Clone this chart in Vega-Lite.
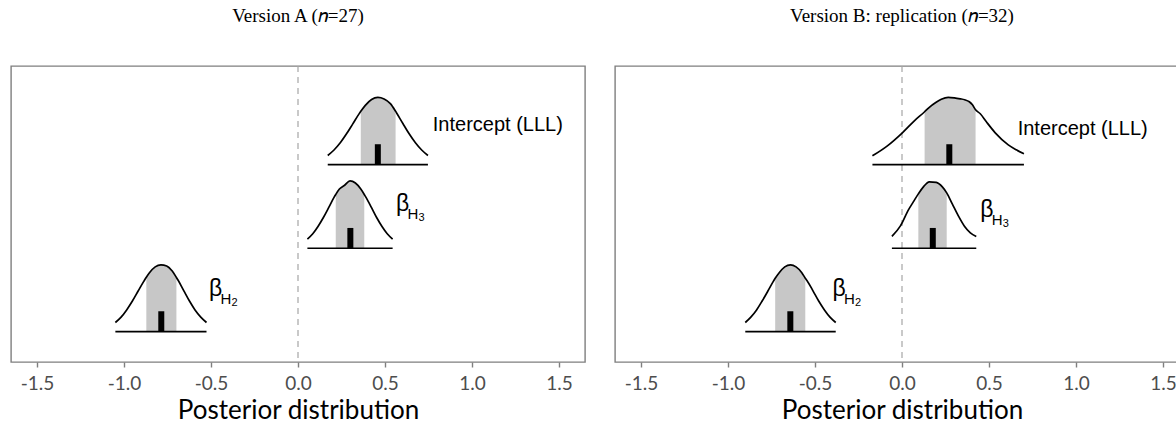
{
  "$schema": "https://vega.github.io/schema/vega-lite/v6.json",
  "padding": {"left": 10, "top": 6, "right": 0, "bottom": 0},
  "spacing": 28,
  "datasets": {
    "curves": [
      {"p":"A","g":"Int","x":0.171,"y":2.442,"b":2.335,"i":false},
      {"p":"A","g":"Int","x":0.207,"y":2.507,"b":2.335,"i":false},
      {"p":"A","g":"Int","x":0.243,"y":2.592,"b":2.335,"i":false},
      {"p":"A","g":"Int","x":0.279,"y":2.698,"b":2.335,"i":false},
      {"p":"A","g":"Int","x":0.315,"y":2.816,"b":2.335,"i":false},
      {"p":"A","g":"Int","x":0.351,"y":2.934,"b":2.335,"i":false},
      {"p":"A","g":"Int","x":0.361,"y":2.964,"b":2.335,"i":true},
      {"p":"A","g":"Int","x":0.387,"y":3.035,"b":2.335,"i":true},
      {"p":"A","g":"Int","x":0.423,"y":3.104,"b":2.335,"i":true},
      {"p":"A","g":"Int","x":0.459,"y":3.128,"b":2.335,"i":true},
      {"p":"A","g":"Int","x":0.495,"y":3.110,"b":2.335,"i":true},
      {"p":"A","g":"Int","x":0.531,"y":3.055,"b":2.335,"i":true},
      {"p":"A","g":"Int","x":0.561,"y":2.965,"b":2.335,"i":true},
      {"p":"A","g":"Int","x":0.567,"y":2.945,"b":2.335,"i":false},
      {"p":"A","g":"Int","x":0.603,"y":2.820,"b":2.335,"i":false},
      {"p":"A","g":"Int","x":0.639,"y":2.698,"b":2.335,"i":false},
      {"p":"A","g":"Int","x":0.675,"y":2.592,"b":2.335,"i":false},
      {"p":"A","g":"Int","x":0.711,"y":2.507,"b":2.335,"i":false},
      {"p":"A","g":"Int","x":0.747,"y":2.442,"b":2.335,"i":false},

      {"p":"A","g":"H3","x":0.054,"y":1.453,"b":1.345,"i":false},
      {"p":"A","g":"H3","x":0.085,"y":1.517,"b":1.345,"i":false},
      {"p":"A","g":"H3","x":0.115,"y":1.603,"b":1.345,"i":false},
      {"p":"A","g":"H3","x":0.146,"y":1.709,"b":1.345,"i":false},
      {"p":"A","g":"H3","x":0.177,"y":1.828,"b":1.345,"i":false},
      {"p":"A","g":"H3","x":0.207,"y":1.946,"b":1.345,"i":false},
      {"p":"A","g":"H3","x":0.217,"y":1.981,"b":1.345,"i":true},
      {"p":"A","g":"H3","x":0.238,"y":2.045,"b":1.345,"i":true},
      {"p":"A","g":"H3","x":0.268,"y":2.090,"b":1.345,"i":true},
      {"p":"A","g":"H3","x":0.299,"y":2.141,"b":1.345,"i":true},
      {"p":"A","g":"H3","x":0.330,"y":2.116,"b":1.345,"i":true},
      {"p":"A","g":"H3","x":0.360,"y":2.048,"b":1.345,"i":true},
      {"p":"A","g":"H3","x":0.381,"y":1.981,"b":1.345,"i":true},
      {"p":"A","g":"H3","x":0.391,"y":1.946,"b":1.345,"i":false},
      {"p":"A","g":"H3","x":0.422,"y":1.828,"b":1.345,"i":false},
      {"p":"A","g":"H3","x":0.452,"y":1.709,"b":1.345,"i":false},
      {"p":"A","g":"H3","x":0.483,"y":1.603,"b":1.345,"i":false},
      {"p":"A","g":"H3","x":0.513,"y":1.517,"b":1.345,"i":false},
      {"p":"A","g":"H3","x":0.544,"y":1.453,"b":1.345,"i":false},

      {"p":"A","g":"H2","x":-1.050,"y":0.467,"b":0.36,"i":false},
      {"p":"A","g":"H2","x":-1.017,"y":0.531,"b":0.36,"i":false},
      {"p":"A","g":"H2","x":-0.985,"y":0.616,"b":0.36,"i":false},
      {"p":"A","g":"H2","x":-0.952,"y":0.721,"b":0.36,"i":false},
      {"p":"A","g":"H2","x":-0.919,"y":0.839,"b":0.36,"i":false},
      {"p":"A","g":"H2","x":-0.886,"y":0.956,"b":0.36,"i":false},
      {"p":"A","g":"H2","x":-0.872,"y":1.003,"b":0.36,"i":true},
      {"p":"A","g":"H2","x":-0.854,"y":1.056,"b":0.36,"i":true},
      {"p":"A","g":"H2","x":-0.821,"y":1.125,"b":0.36,"i":true},
      {"p":"A","g":"H2","x":-0.788,"y":1.149,"b":0.36,"i":true},
      {"p":"A","g":"H2","x":-0.755,"y":1.135,"b":0.36,"i":true},
      {"p":"A","g":"H2","x":-0.723,"y":1.075,"b":0.36,"i":true},
      {"p":"A","g":"H2","x":-0.699,"y":1.000,"b":0.36,"i":true},
      {"p":"A","g":"H2","x":-0.690,"y":0.970,"b":0.36,"i":false},
      {"p":"A","g":"H2","x":-0.657,"y":0.845,"b":0.36,"i":false},
      {"p":"A","g":"H2","x":-0.624,"y":0.721,"b":0.36,"i":false},
      {"p":"A","g":"H2","x":-0.592,"y":0.616,"b":0.36,"i":false},
      {"p":"A","g":"H2","x":-0.559,"y":0.531,"b":0.36,"i":false},
      {"p":"A","g":"H2","x":-0.526,"y":0.467,"b":0.36,"i":false},

      {"p":"B","g":"Int","x":-0.170,"y":2.438,"b":2.335,"i":false},
      {"p":"B","g":"Int","x":-0.084,"y":2.556,"b":2.335,"i":false},
      {"p":"B","g":"Int","x":0.002,"y":2.710,"b":2.335,"i":false},
      {"p":"B","g":"Int","x":0.071,"y":2.852,"b":2.335,"i":false},
      {"p":"B","g":"Int","x":0.130,"y":2.959,"b":2.335,"i":true},
      {"p":"B","g":"Int","x":0.157,"y":3.012,"b":2.335,"i":true},
      {"p":"B","g":"Int","x":0.192,"y":3.065,"b":2.335,"i":true},
      {"p":"B","g":"Int","x":0.226,"y":3.107,"b":2.335,"i":true},
      {"p":"B","g":"Int","x":0.266,"y":3.130,"b":2.335,"i":true},
      {"p":"B","g":"Int","x":0.301,"y":3.124,"b":2.335,"i":true},
      {"p":"B","g":"Int","x":0.335,"y":3.112,"b":2.335,"i":true},
      {"p":"B","g":"Int","x":0.360,"y":3.101,"b":2.335,"i":true},
      {"p":"B","g":"Int","x":0.387,"y":3.077,"b":2.335,"i":true},
      {"p":"B","g":"Int","x":0.405,"y":3.041,"b":2.335,"i":true},
      {"p":"B","g":"Int","x":0.423,"y":2.982,"b":2.335,"i":true},
      {"p":"B","g":"Int","x":0.450,"y":2.935,"b":2.335,"i":false},
      {"p":"B","g":"Int","x":0.485,"y":2.840,"b":2.335,"i":false},
      {"p":"B","g":"Int","x":0.536,"y":2.710,"b":2.335,"i":false},
      {"p":"B","g":"Int","x":0.611,"y":2.568,"b":2.335,"i":false},
      {"p":"B","g":"Int","x":0.657,"y":2.509,"b":2.335,"i":false},
      {"p":"B","g":"Int","x":0.701,"y":2.462,"b":2.335,"i":false},

      {"p":"B","g":"H3","x":-0.058,"y":1.485,"b":1.345,"i":false},
      {"p":"B","g":"H3","x":-0.009,"y":1.609,"b":1.345,"i":false},
      {"p":"B","g":"H3","x":0.037,"y":1.799,"b":1.345,"i":false},
      {"p":"B","g":"H3","x":0.065,"y":1.893,"b":1.345,"i":false},
      {"p":"B","g":"H3","x":0.094,"y":1.988,"b":1.345,"i":true},
      {"p":"B","g":"H3","x":0.123,"y":2.071,"b":1.345,"i":true},
      {"p":"B","g":"H3","x":0.157,"y":2.130,"b":1.345,"i":true},
      {"p":"B","g":"H3","x":0.197,"y":2.124,"b":1.345,"i":true},
      {"p":"B","g":"H3","x":0.232,"y":2.071,"b":1.345,"i":true},
      {"p":"B","g":"H3","x":0.257,"y":2.000,"b":1.345,"i":true},
      {"p":"B","g":"H3","x":0.289,"y":1.870,"b":1.345,"i":false},
      {"p":"B","g":"H3","x":0.324,"y":1.728,"b":1.345,"i":false},
      {"p":"B","g":"H3","x":0.358,"y":1.609,"b":1.345,"i":false},
      {"p":"B","g":"H3","x":0.393,"y":1.527,"b":1.345,"i":false},
      {"p":"B","g":"H3","x":0.427,"y":1.485,"b":1.345,"i":false},

      {"p":"B","g":"H2","x":-0.901,"y":0.467,"b":0.36,"i":false},
      {"p":"B","g":"H2","x":-0.869,"y":0.531,"b":0.36,"i":false},
      {"p":"B","g":"H2","x":-0.836,"y":0.616,"b":0.36,"i":false},
      {"p":"B","g":"H2","x":-0.804,"y":0.721,"b":0.36,"i":false},
      {"p":"B","g":"H2","x":-0.771,"y":0.839,"b":0.36,"i":false},
      {"p":"B","g":"H2","x":-0.739,"y":0.956,"b":0.36,"i":false},
      {"p":"B","g":"H2","x":-0.729,"y":0.990,"b":0.36,"i":true},
      {"p":"B","g":"H2","x":-0.706,"y":1.056,"b":0.36,"i":true},
      {"p":"B","g":"H2","x":-0.674,"y":1.125,"b":0.36,"i":true},
      {"p":"B","g":"H2","x":-0.641,"y":1.149,"b":0.36,"i":true},
      {"p":"B","g":"H2","x":-0.609,"y":1.125,"b":0.36,"i":true},
      {"p":"B","g":"H2","x":-0.576,"y":1.056,"b":0.36,"i":true},
      {"p":"B","g":"H2","x":-0.556,"y":0.990,"b":0.36,"i":true},
      {"p":"B","g":"H2","x":-0.544,"y":0.956,"b":0.36,"i":false},
      {"p":"B","g":"H2","x":-0.511,"y":0.839,"b":0.36,"i":false},
      {"p":"B","g":"H2","x":-0.479,"y":0.721,"b":0.36,"i":false},
      {"p":"B","g":"H2","x":-0.446,"y":0.616,"b":0.36,"i":false},
      {"p":"B","g":"H2","x":-0.414,"y":0.531,"b":0.36,"i":false},
      {"p":"B","g":"H2","x":-0.381,"y":0.467,"b":0.36,"i":false}
    ],
    "summ": [
      {"p":"A","g":"Int","lo":0.171,"hi":0.747,"b":2.335,"m":0.459,"top":2.575,"lx":0.775,"ly":2.737,"t":"Intercept (LLL)","s":"","ss":""},
      {"p":"A","g":"H3","lo":0.054,"hi":0.544,"b":1.345,"m":0.301,"top":1.585,"lx":0.563,"ly":1.787,"t":"β","s":"H","ss":"3"},
      {"p":"A","g":"H2","lo":-1.050,"hi":-0.526,"b":0.36,"m":-0.786,"top":0.60,"lx":-0.512,"ly":0.783,"t":"β","s":"H","ss":"2"},
      {"p":"B","g":"Int","lo":-0.170,"hi":0.701,"b":2.335,"m":0.272,"top":2.575,"lx":0.665,"ly":2.686,"t":"Intercept (LLL)","s":"","ss":""},
      {"p":"B","g":"H3","lo":-0.058,"hi":0.427,"b":1.345,"m":0.177,"top":1.585,"lx":0.450,"ly":1.72,"t":"β","s":"H","ss":"3"},
      {"p":"B","g":"H2","lo":-0.901,"hi":-0.381,"b":0.36,"m":-0.642,"top":0.60,"lx":-0.400,"ly":0.783,"t":"β","s":"H","ss":"2"}
    ]
  },
  "hconcat": [
    {
      "width": 574, "height": 296,
      "title": "Version A (𝑛=27)",
      "layer": [
        {"data": {"values": [{}]}, "mark": {"type": "rule", "color": "#a6a6a6", "strokeDash": [6, 5], "strokeWidth": 1.2},
         "encoding": {"x": {"datum": 0, "type": "quantitative", "scale": {"domain": [-1.65, 1.65], "nice": false, "zero": false}, "axis": {"values": [-1.5, -1, -0.5, 0, 0.5, 1, 1.5], "labelExpr": "replace(format(datum.value, '.1f'), '−', '-')", "title": "Posterior distribution"}}}},
        {"data": {"name": "curves"}, "transform": [{"filter": "datum.p == 'A' && datum.i"}],
         "mark": {"type": "area", "color": "#c7c7c7", "interpolate": "monotone"},
         "encoding": {"x": {"field": "x", "type": "quantitative", "scale": {"domain": [-1.65, 1.65], "nice": false, "zero": false}, "axis": {"values": [-1.5, -1, -0.5, 0, 0.5, 1, 1.5], "labelExpr": "replace(format(datum.value, '.1f'), '−', '-')", "title": "Posterior distribution"}},
                      "y": {"field": "y", "type": "quantitative", "scale": {"domain": [0, 3.5], "nice": false, "zero": false}, "axis": null},
                      "y2": {"field": "b"}, "detail": {"field": "g"}}},
        {"data": {"name": "curves"}, "transform": [{"filter": "datum.p == 'A'"}],
         "mark": {"type": "line", "color": "black", "strokeWidth": 1.7, "interpolate": "monotone"},
         "encoding": {"x": {"field": "x", "type": "quantitative", "scale": {"domain": [-1.65, 1.65], "nice": false, "zero": false}, "axis": {"values": [-1.5, -1, -0.5, 0, 0.5, 1, 1.5], "labelExpr": "replace(format(datum.value, '.1f'), '−', '-')", "title": "Posterior distribution"}},
                      "y": {"field": "y", "type": "quantitative", "scale": {"domain": [0, 3.5], "nice": false, "zero": false}, "axis": null},
                      "detail": {"field": "g"}}},
        {"data": {"name": "summ"}, "transform": [{"filter": "datum.p == 'A'"}],
         "mark": {"type": "rule", "color": "black", "strokeWidth": 1.7},
         "encoding": {"x": {"field": "lo", "type": "quantitative", "scale": {"domain": [-1.65, 1.65], "nice": false, "zero": false}, "axis": {"values": [-1.5, -1, -0.5, 0, 0.5, 1, 1.5], "labelExpr": "replace(format(datum.value, '.1f'), '−', '-')", "title": "Posterior distribution"}},
                      "x2": {"field": "hi"},
                      "y": {"field": "b", "type": "quantitative", "scale": {"domain": [0, 3.5], "nice": false, "zero": false}, "axis": null}}},
        {"data": {"name": "summ"}, "transform": [{"filter": "datum.p == 'A'"}],
         "mark": {"type": "rule", "color": "black", "strokeWidth": 6},
         "encoding": {"x": {"field": "m", "type": "quantitative", "scale": {"domain": [-1.65, 1.65], "nice": false, "zero": false}, "axis": {"values": [-1.5, -1, -0.5, 0, 0.5, 1, 1.5], "labelExpr": "replace(format(datum.value, '.1f'), '−', '-')", "title": "Posterior distribution"}},
                      "y": {"field": "b", "type": "quantitative", "scale": {"domain": [0, 3.5], "nice": false, "zero": false}, "axis": null},
                      "y2": {"field": "top"}}},
        {"data": {"name": "summ"}, "transform": [{"filter": "datum.p == 'A' && datum.g == 'Int'"}],
         "mark": {"type": "text", "font": "Liberation Sans", "fontSize": 20, "align": "left", "baseline": "alphabetic", "color": "black"},
         "encoding": {"x": {"field": "lx", "type": "quantitative", "scale": {"domain": [-1.65, 1.65], "nice": false, "zero": false}, "axis": {"values": [-1.5, -1, -0.5, 0, 0.5, 1, 1.5], "labelExpr": "replace(format(datum.value, '.1f'), '−', '-')", "title": "Posterior distribution"}},
                      "y": {"field": "ly", "type": "quantitative", "scale": {"domain": [0, 3.5], "nice": false, "zero": false}, "axis": null},
                      "text": {"field": "t"}}},
        {"data": {"name": "summ"}, "transform": [{"filter": "datum.p == 'A' && datum.g != 'Int'"}],
         "mark": {"type": "text", "font": "Liberation Sans", "fontSize": 23, "align": "left", "baseline": "alphabetic", "color": "black"},
         "encoding": {"x": {"field": "lx", "type": "quantitative", "scale": {"domain": [-1.65, 1.65], "nice": false, "zero": false}, "axis": {"values": [-1.5, -1, -0.5, 0, 0.5, 1, 1.5], "labelExpr": "replace(format(datum.value, '.1f'), '−', '-')", "title": "Posterior distribution"}},
                      "y": {"field": "ly", "type": "quantitative", "scale": {"domain": [0, 3.5], "nice": false, "zero": false}, "axis": null},
                      "text": {"field": "t"}}},
        {"data": {"name": "summ"}, "transform": [{"filter": "datum.p == 'A' && datum.g != 'Int'"}],
         "mark": {"type": "text", "font": "Liberation Sans", "fontSize": 15, "align": "left", "baseline": "alphabetic", "color": "black", "dx": 11.5, "dy": 8},
         "encoding": {"x": {"field": "lx", "type": "quantitative", "scale": {"domain": [-1.65, 1.65], "nice": false, "zero": false}, "axis": {"values": [-1.5, -1, -0.5, 0, 0.5, 1, 1.5], "labelExpr": "replace(format(datum.value, '.1f'), '−', '-')", "title": "Posterior distribution"}},
                      "y": {"field": "ly", "type": "quantitative", "scale": {"domain": [0, 3.5], "nice": false, "zero": false}, "axis": null},
                      "text": {"field": "s"}}},
        {"data": {"name": "summ"}, "transform": [{"filter": "datum.p == 'A' && datum.g != 'Int'"}],
         "mark": {"type": "text", "font": "Liberation Sans", "fontSize": 11, "align": "left", "baseline": "alphabetic", "color": "black", "dx": 22.5, "dy": 10},
         "encoding": {"x": {"field": "lx", "type": "quantitative", "scale": {"domain": [-1.65, 1.65], "nice": false, "zero": false}, "axis": {"values": [-1.5, -1, -0.5, 0, 0.5, 1, 1.5], "labelExpr": "replace(format(datum.value, '.1f'), '−', '-')", "title": "Posterior distribution"}},
                      "y": {"field": "ly", "type": "quantitative", "scale": {"domain": [0, 3.5], "nice": false, "zero": false}, "axis": null},
                      "text": {"field": "ss"}}}
      ]
    },
    {
      "width": 574, "height": 296,
      "title": "Version B: replication (𝑛=32)",
      "layer": [
        {"data": {"values": [{}]}, "mark": {"type": "rule", "color": "#a6a6a6", "strokeDash": [6, 5], "strokeWidth": 1.2},
         "encoding": {"x": {"datum": 0, "type": "quantitative", "scale": {"domain": [-1.65, 1.65], "nice": false, "zero": false}, "axis": {"values": [-1.5, -1, -0.5, 0, 0.5, 1, 1.5], "labelExpr": "replace(format(datum.value, '.1f'), '−', '-')", "title": "Posterior distribution"}}}},
        {"data": {"name": "curves"}, "transform": [{"filter": "datum.p == 'B' && datum.i"}],
         "mark": {"type": "area", "color": "#c7c7c7", "interpolate": "monotone"},
         "encoding": {"x": {"field": "x", "type": "quantitative", "scale": {"domain": [-1.65, 1.65], "nice": false, "zero": false}, "axis": {"values": [-1.5, -1, -0.5, 0, 0.5, 1, 1.5], "labelExpr": "replace(format(datum.value, '.1f'), '−', '-')", "title": "Posterior distribution"}},
                      "y": {"field": "y", "type": "quantitative", "scale": {"domain": [0, 3.5], "nice": false, "zero": false}, "axis": null},
                      "y2": {"field": "b"}, "detail": {"field": "g"}}},
        {"data": {"name": "curves"}, "transform": [{"filter": "datum.p == 'B'"}],
         "mark": {"type": "line", "color": "black", "strokeWidth": 1.7, "interpolate": "monotone"},
         "encoding": {"x": {"field": "x", "type": "quantitative", "scale": {"domain": [-1.65, 1.65], "nice": false, "zero": false}, "axis": {"values": [-1.5, -1, -0.5, 0, 0.5, 1, 1.5], "labelExpr": "replace(format(datum.value, '.1f'), '−', '-')", "title": "Posterior distribution"}},
                      "y": {"field": "y", "type": "quantitative", "scale": {"domain": [0, 3.5], "nice": false, "zero": false}, "axis": null},
                      "detail": {"field": "g"}}},
        {"data": {"name": "summ"}, "transform": [{"filter": "datum.p == 'B'"}],
         "mark": {"type": "rule", "color": "black", "strokeWidth": 1.7},
         "encoding": {"x": {"field": "lo", "type": "quantitative", "scale": {"domain": [-1.65, 1.65], "nice": false, "zero": false}, "axis": {"values": [-1.5, -1, -0.5, 0, 0.5, 1, 1.5], "labelExpr": "replace(format(datum.value, '.1f'), '−', '-')", "title": "Posterior distribution"}},
                      "x2": {"field": "hi"},
                      "y": {"field": "b", "type": "quantitative", "scale": {"domain": [0, 3.5], "nice": false, "zero": false}, "axis": null}}},
        {"data": {"name": "summ"}, "transform": [{"filter": "datum.p == 'B'"}],
         "mark": {"type": "rule", "color": "black", "strokeWidth": 6},
         "encoding": {"x": {"field": "m", "type": "quantitative", "scale": {"domain": [-1.65, 1.65], "nice": false, "zero": false}, "axis": {"values": [-1.5, -1, -0.5, 0, 0.5, 1, 1.5], "labelExpr": "replace(format(datum.value, '.1f'), '−', '-')", "title": "Posterior distribution"}},
                      "y": {"field": "b", "type": "quantitative", "scale": {"domain": [0, 3.5], "nice": false, "zero": false}, "axis": null},
                      "y2": {"field": "top"}}},
        {"data": {"name": "summ"}, "transform": [{"filter": "datum.p == 'B' && datum.g == 'Int'"}],
         "mark": {"type": "text", "font": "Liberation Sans", "fontSize": 20, "align": "left", "baseline": "alphabetic", "color": "black"},
         "encoding": {"x": {"field": "lx", "type": "quantitative", "scale": {"domain": [-1.65, 1.65], "nice": false, "zero": false}, "axis": {"values": [-1.5, -1, -0.5, 0, 0.5, 1, 1.5], "labelExpr": "replace(format(datum.value, '.1f'), '−', '-')", "title": "Posterior distribution"}},
                      "y": {"field": "ly", "type": "quantitative", "scale": {"domain": [0, 3.5], "nice": false, "zero": false}, "axis": null},
                      "text": {"field": "t"}}},
        {"data": {"name": "summ"}, "transform": [{"filter": "datum.p == 'B' && datum.g != 'Int'"}],
         "mark": {"type": "text", "font": "Liberation Sans", "fontSize": 23, "align": "left", "baseline": "alphabetic", "color": "black"},
         "encoding": {"x": {"field": "lx", "type": "quantitative", "scale": {"domain": [-1.65, 1.65], "nice": false, "zero": false}, "axis": {"values": [-1.5, -1, -0.5, 0, 0.5, 1, 1.5], "labelExpr": "replace(format(datum.value, '.1f'), '−', '-')", "title": "Posterior distribution"}},
                      "y": {"field": "ly", "type": "quantitative", "scale": {"domain": [0, 3.5], "nice": false, "zero": false}, "axis": null},
                      "text": {"field": "t"}}},
        {"data": {"name": "summ"}, "transform": [{"filter": "datum.p == 'B' && datum.g != 'Int'"}],
         "mark": {"type": "text", "font": "Liberation Sans", "fontSize": 15, "align": "left", "baseline": "alphabetic", "color": "black", "dx": 11.5, "dy": 8},
         "encoding": {"x": {"field": "lx", "type": "quantitative", "scale": {"domain": [-1.65, 1.65], "nice": false, "zero": false}, "axis": {"values": [-1.5, -1, -0.5, 0, 0.5, 1, 1.5], "labelExpr": "replace(format(datum.value, '.1f'), '−', '-')", "title": "Posterior distribution"}},
                      "y": {"field": "ly", "type": "quantitative", "scale": {"domain": [0, 3.5], "nice": false, "zero": false}, "axis": null},
                      "text": {"field": "s"}}},
        {"data": {"name": "summ"}, "transform": [{"filter": "datum.p == 'B' && datum.g != 'Int'"}],
         "mark": {"type": "text", "font": "Liberation Sans", "fontSize": 11, "align": "left", "baseline": "alphabetic", "color": "black", "dx": 22.5, "dy": 10},
         "encoding": {"x": {"field": "lx", "type": "quantitative", "scale": {"domain": [-1.65, 1.65], "nice": false, "zero": false}, "axis": {"values": [-1.5, -1, -0.5, 0, 0.5, 1, 1.5], "labelExpr": "replace(format(datum.value, '.1f'), '−', '-')", "title": "Posterior distribution"}},
                      "y": {"field": "ly", "type": "quantitative", "scale": {"domain": [0, 3.5], "nice": false, "zero": false}, "axis": null},
                      "text": {"field": "ss"}}}
      ]
    }
  ],
  "config": {
    "view": {"stroke": "#7f7f7f", "strokeWidth": 1.4},
    "axis": {"grid": false, "domain": false, "tickColor": "#7f7f7f", "tickWidth": 1.4, "tickSize": 5,
             "labelFont": "Lato", "labelFontSize": 19, "labelColor": "#4d4d4d", "labelPadding": 7,
             "titleFont": "Lato", "titleFontSize": 26, "titleFontWeight": "normal", "titleColor": "black", "titlePadding": 4},
    "title": {"font": "Liberation Serif", "fontSize": 19, "fontWeight": "normal", "color": "black", "offset": 39}
  }
}
